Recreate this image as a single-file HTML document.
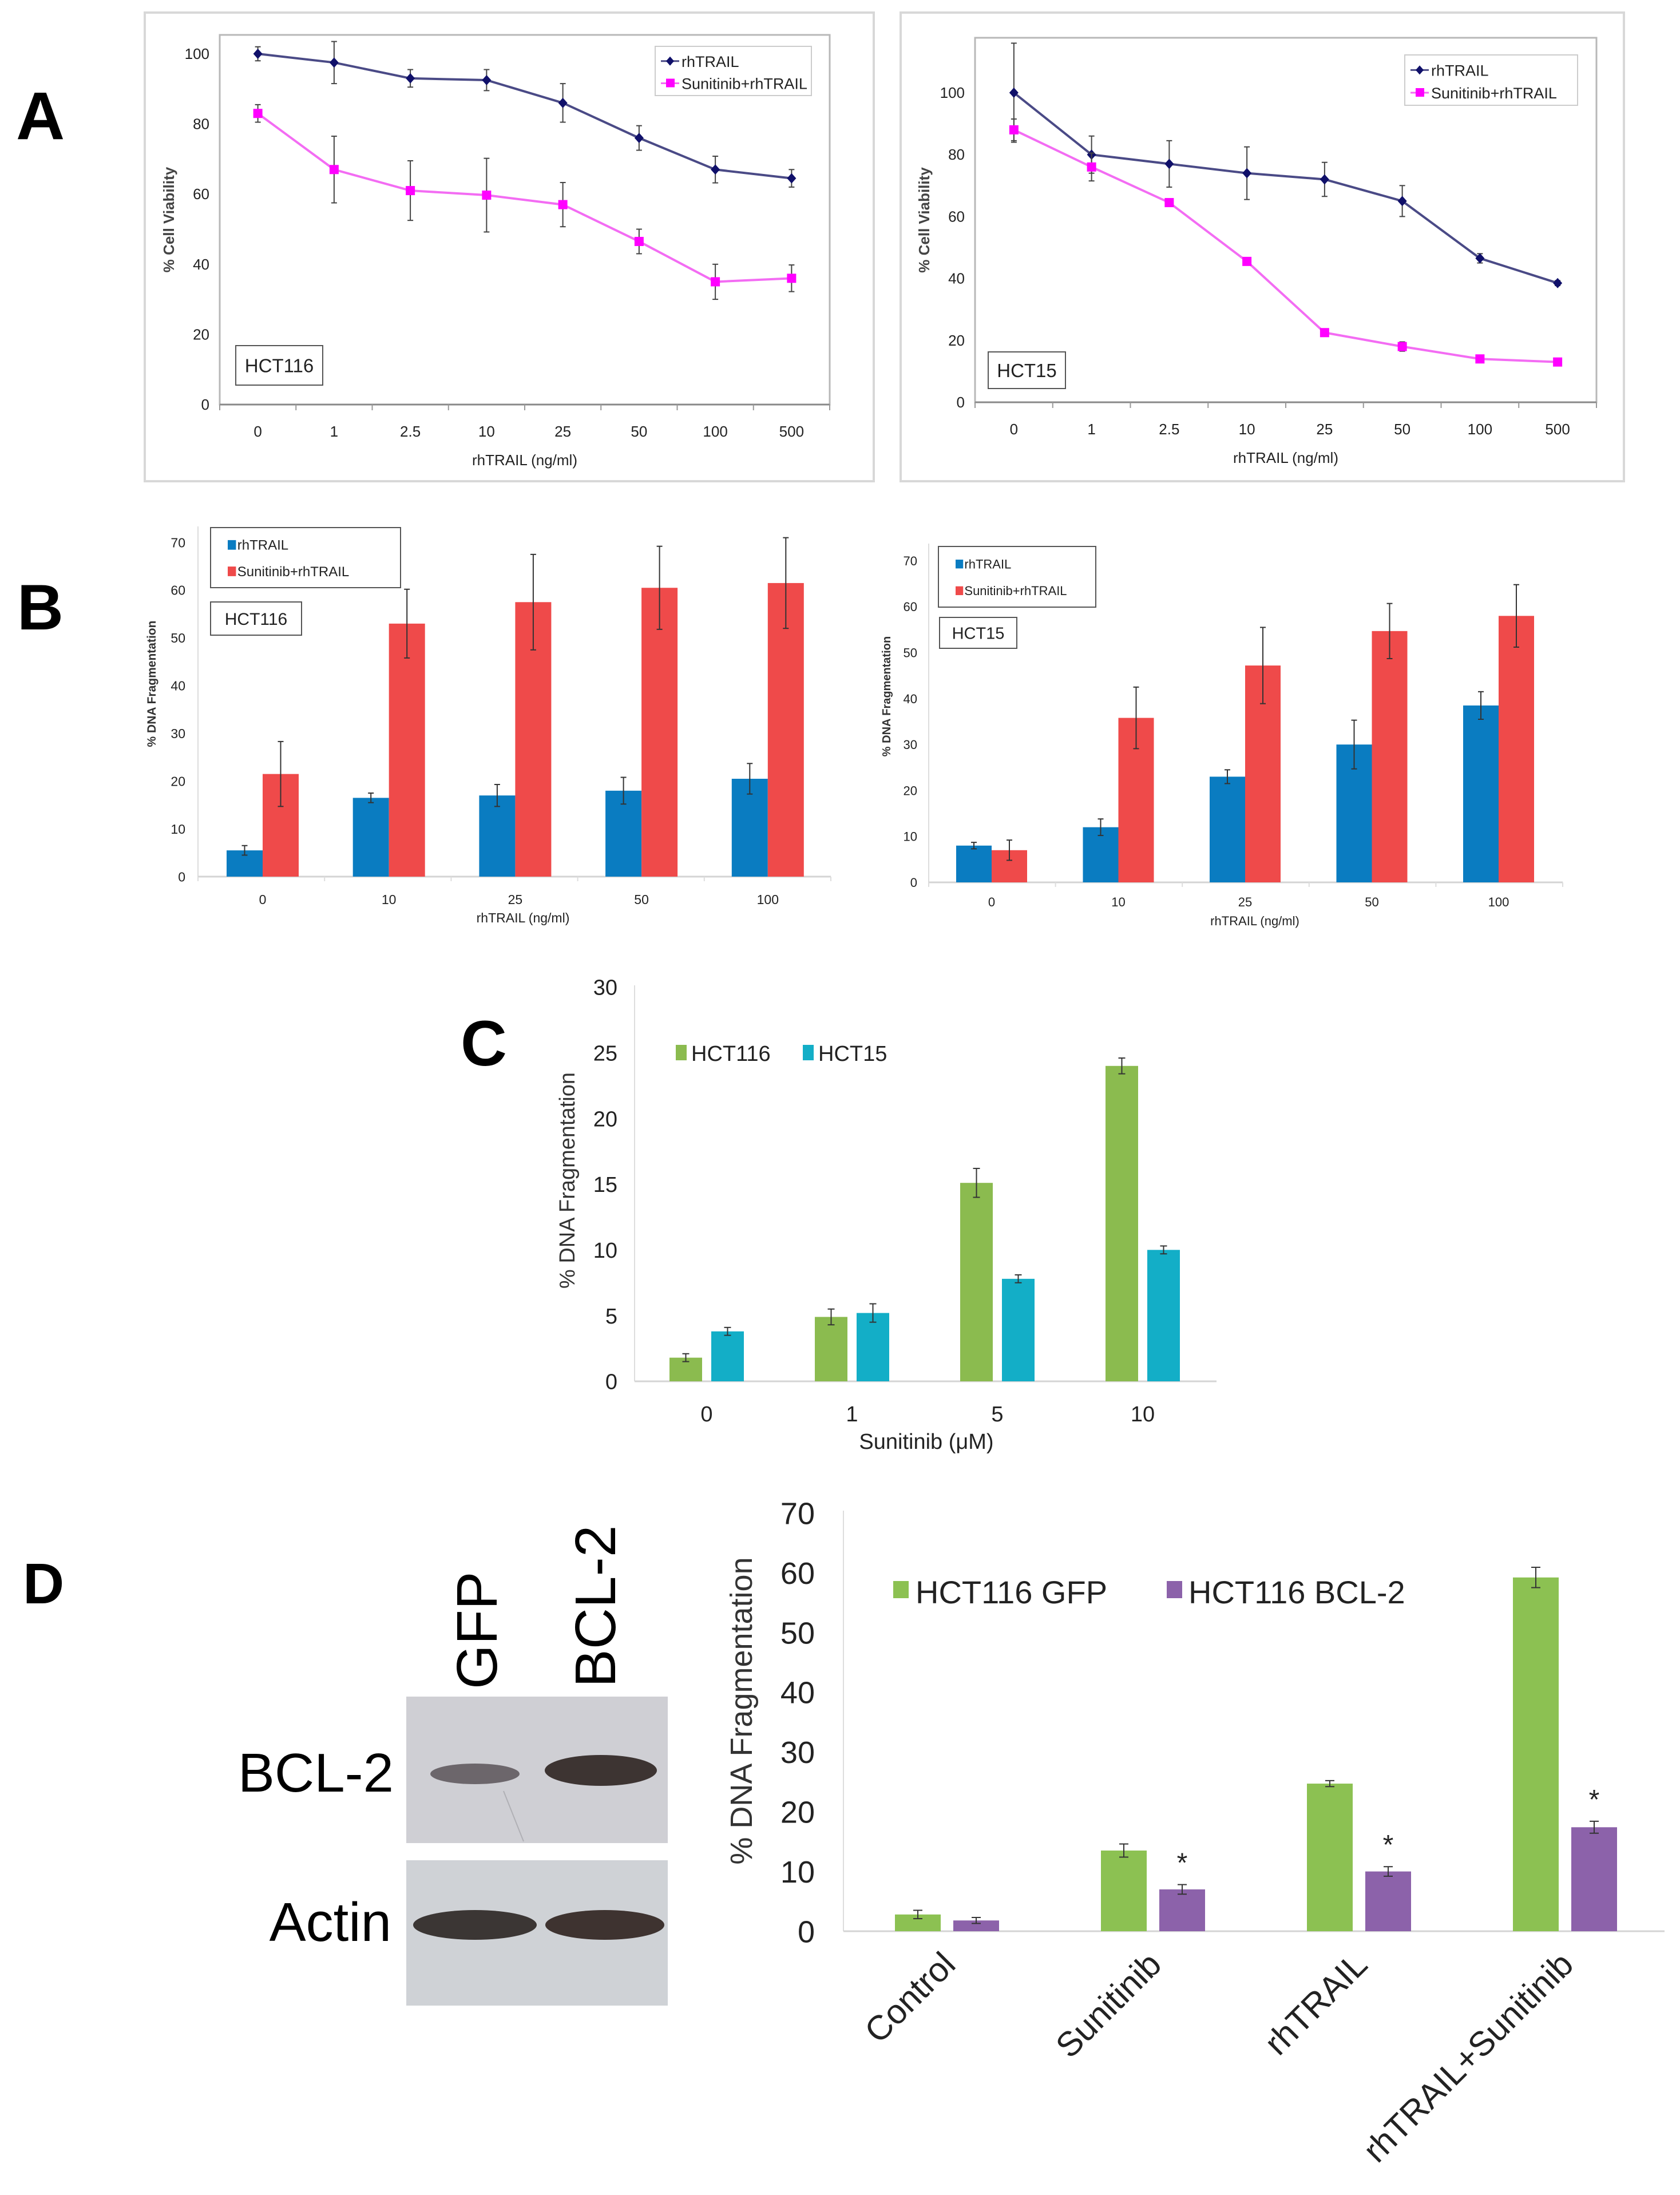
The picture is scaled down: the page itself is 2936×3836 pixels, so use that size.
<!DOCTYPE html>
<html><head><meta charset="utf-8"><title>Figure</title>
<style>
html,body{margin:0;padding:0;background:#fff;}
svg{display:block;}
text{font-family:"Liberation Sans",Arial,sans-serif;}
</style></head>
<body>
<svg id="fig" width="2936" height="3836" viewBox="0 0 2936 3836" xmlns="http://www.w3.org/2000/svg">
<rect x="0" y="0" width="2936" height="3836" fill="#fff"/>
<text x="28" y="243" font-size="118" font-weight="bold">A</text>
<text x="30" y="1100" font-size="112" font-weight="bold">B</text>
<text x="805" y="1862" font-size="112" font-weight="bold">C</text>
<text x="40" y="2802" font-size="100" font-weight="bold">D</text>

<rect x="253" y="22" width="1274" height="819" fill="none" stroke="#d8d8d8" stroke-width="4"/>
<rect x="1574" y="22" width="1264" height="819" fill="none" stroke="#d8d8d8" stroke-width="4"/>

<g>
  <rect x="710" y="2965" width="457" height="256" fill="#cfcfd4"/>
  <rect x="710" y="3251" width="457" height="254" fill="#cfd2d6"/>
  <line x1="880" y1="3130" x2="915" y2="3218" stroke="#b0b0b5" stroke-width="2"/>
  <ellipse cx="830" cy="3100" rx="78" ry="18" fill="#5a5458" opacity="0.85"/>
  <ellipse cx="1050" cy="3094" rx="98" ry="27" fill="#3d3432"/>
  <ellipse cx="830" cy="3364" rx="108" ry="26" fill="#3b3634"/>
  <ellipse cx="1057" cy="3364" rx="104" ry="26" fill="#3e3330"/>
  <text x="688" y="3131" font-size="96" text-anchor="end">BCL-2</text>
  <text x="684" y="3392" font-size="96" text-anchor="end">Actin</text>
  <text transform="translate(868,2952) rotate(-90)" font-size="100">GFP</text>
  <text transform="translate(1075,2949) rotate(-90)" font-size="100">BCL-2</text>
</g>
</svg>
<script>
const aCats = ["0","1","2.5","10","25","50","100","500"];
const aTicks = [0,20,40,60,80,100];
const aLeftTrail = [100,97.5,93,92.5,86,76,67,64.5];
const aLeftTrailErr = [2,6,2.5,3,5.5,3.5,3.8,2.5];
const aLeftSun = [83,67,61,59.7,57,46.5,35,36];
const aLeftSunErr = [2.5,9.5,8.5,10.5,6.3,3.5,5,3.8];
const aRightTrail = [100,80,77,74,72,65,46.5,38.5];
const aRightTrailErr = [16,6,7.5,8.5,5.5,5,1.5,0.8];
const aRightSun = [88,76,64.5,45.5,22.5,18,14,13];
const aRightSunErr = [3.5,4.5,1,1,1,1.5,0.5,0.5];

const bCats = ["0","10","25","50","100"];
const bTicks = [0,10,20,30,40,50,60,70];
const bLeftTrail = [5.5,16.5,17,18,20.5];
const bLeftTrailErr = [1,1,2.3,2.8,3.2];
const bLeftSun = [21.5,53,57.5,60.5,61.5];
const bLeftSunErr = [6.8,7.2,10,8.7,9.5];
const bRightTrail = [8,12,23,30,38.5];
const bRightTrailErr = [0.7,1.8,1.5,5.3,3];
const bRightSun = [7,35.8,47.2,54.7,58];
const bRightSunErr = [2.2,6.7,8.3,6,6.8];

const cCats = ["0","1","5","10"];
const cTicks = [0,5,10,15,20,25,30];
const cHct116 = [1.8,4.9,15.1,24];
const cHct116Err = [0.3,0.6,1.1,0.6];
const cHct15 = [3.8,5.2,7.8,10];
const cHct15Err = [0.3,0.7,0.3,0.3];

const dCats = ["Control","Sunitinib","rhTRAIL","rhTRAIL+Sunitinib"];
const dTicks = [0,10,20,30,40,50,60,70];
const dGfp = [2.8,13.5,24.7,59.2];
const dGfpErr = [0.7,1.1,0.5,1.7];
const dBcl2 = [1.8,7,10,17.4];
const dBcl2Err = [0.5,0.8,0.8,1];
const dStars = [false,true,true,true];

const NS = "http://www.w3.org/2000/svg";
const svg = document.getElementById("fig");
function mk(tag, attrs, parent){
  const e = document.createElementNS(NS, tag);
  for (const k in attrs) e.setAttribute(k, attrs[k]);
  (parent||svg).appendChild(e);
  return e;
}
function txt(s, attrs, parent){ const t = mk("text", attrs, parent); t.textContent = s; return t; }
function lin(min, max, p0, p1){ return v => p0 + (v-min)/(max-min)*(p1-p0); }
function errBar(g, x, y0, y1, cap, color, w){
  const l = mk("line",{x1:x,x2:x,y1:y0,y2:y1,stroke:color,"stroke-width":w},g);
  
  
  mk("line",{x1:x-cap,x2:x+cap,y1:y0,y2:y0,stroke:color,"stroke-width":w},g);
  mk("line",{x1:x-cap,x2:x+cap,y1:y1,y2:y1,stroke:color,"stroke-width":w},g);
}

function lineChart(o){
  const g = mk("g",{});
  
  
  const y = lin(0,100,o.y0,o.y100);
  const n = aCats.length;
  const step = (o.right-o.left)/n;
  const x = i => o.left + step*(i+0.5);
  mk("rect",{x:o.left,y:o.top,width:o.right-o.left,height:o.y0-o.top,fill:"none",stroke:"#b8b8b8","stroke-width":3},g);
  mk("line",{x1:o.left,x2:o.right,y1:o.y0,y2:o.y0,stroke:"#888","stroke-width":3},g);
  for(let k=0;k<=n;k++){ mk("line",{x1:o.left+k*step,x2:o.left+k*step,y1:o.y0,y2:o.y0+10,stroke:"#999","stroke-width":2},g); }
  aTicks.forEach(v=>{
    const t = txt(String(v),{x:o.left-18,y:y(v)+9,"font-size":26,"text-anchor":"end",fill:"#222"},g);
    
    
  });
  aCats.forEach((c,i)=>{
    const t = txt(c,{x:x(i),y:o.y0+56,"font-size":26,"text-anchor":"middle",fill:"#222"},g);
    
    
  });
  const xt = txt("rhTRAIL (ng/ml)",{x:(o.left+o.right)/2,y:o.y0+106,"font-size":26,"text-anchor":"middle",fill:"#222"},g);
  
  
  const yt = txt("% Cell Viability",{transform:`translate(${o.left-80},${(o.top+o.y0)/2}) rotate(-90)`,"font-size":26,"font-weight":"bold","text-anchor":"middle",fill:"#444"},g);
  
  
  const series = [
    {v:o.trail,e:o.trailErr,line:"#4a4a86",mark:"#10106a",shape:"diamond",name:"series-rhtrail"},
    {v:o.sun,e:o.sunErr,line:"#f36cf3",mark:"#ff00ff",shape:"square",name:"series-sunitinib-rhtrail"}
  ];
  series.forEach(s=>{
    const sg = mk("g",{},g);
    
    
    s.v.forEach((v,i)=> errBar(sg, x(i), y(v+s.e[i]), y(v-s.e[i]), 5, "#444", 2));
    const pts = s.v.map((v,i)=>x(i)+","+y(v)).join(" ");
    mk("polyline",{points:pts,fill:"none",stroke:s.line,"stroke-width":4},sg);
    s.v.forEach((v,i)=>{
      let m;
      if(s.shape==="diamond") m = mk("polygon",{points:`${x(i)},${y(v)-9} ${x(i)+8},${y(v)} ${x(i)},${y(v)+9} ${x(i)-8},${y(v)}`,fill:s.mark},sg);
      else m = mk("rect",{x:x(i)-8,y:y(v)-8,width:16,height:16,fill:s.mark},sg);
      
      
    });
  });
  const lg = mk("g",{},g);
  
  
  mk("rect",{x:o.lx,y:o.ly,width:o.lw,height:o.lh,fill:"#fff",stroke:"#ccc","stroke-width":2},lg);
  const r1 = o.ly+o.lh*0.3, r2 = o.ly+o.lh*0.75;
  mk("line",{x1:o.lx+10,x2:o.lx+42,y1:r1,y2:r1,stroke:"#4a4a86","stroke-width":3},lg);
  mk("polygon",{points:`${o.lx+26},${r1-8} ${o.lx+33},${r1} ${o.lx+26},${r1+8} ${o.lx+19},${r1}`,fill:"#10106a"},lg);
  mk("line",{x1:o.lx+10,x2:o.lx+42,y1:r2,y2:r2,stroke:"#f36cf3","stroke-width":3},lg);
  mk("rect",{x:o.lx+19,y:r2-8,width:15,height:15,fill:"#ff00ff"},lg);
  const l1 = txt("rhTRAIL",{x:o.lx+46,y:r1+10,"font-size":27,fill:"#222"},lg);
  
  
  const l2 = txt("Sunitinib+rhTRAIL",{x:o.lx+46,y:r2+10,"font-size":27,fill:"#222"},lg);
  
  
  mk("rect",{x:o.bx,y:o.by,width:o.bw,height:o.bh,fill:"#fff",stroke:"#555","stroke-width":2},g);
  const cb = txt(o.cell,{x:o.bx+o.bw/2,y:o.by+o.bh/2+12,"font-size":33,"text-anchor":"middle",fill:"#222"},g);
  
  
}
lineChart({name:"chart-a-hct116",left:384,right:1450,top:61,y0:707,y100:94,trail:aLeftTrail,trailErr:aLeftTrailErr,sun:aLeftSun,sunErr:aLeftSunErr,
  lx:1145,ly:81,lw:273,lh:86,bx:412,by:604,bw:152,bh:69,cell:"HCT116"});
lineChart({name:"chart-a-hct15",left:1704,right:2790,top:66,y0:703,y100:162,trail:aRightTrail,trailErr:aRightTrailErr,sun:aRightSun,sunErr:aRightSunErr,
  lx:2455,ly:96,lw:302,lh:88,bx:1727,by:615,bw:135,bh:64,cell:"HCT15"});

function barChart(o){
  const g = mk("g",{});
  
  
  const y = lin(0,o.tickVals[o.tickVals.length-1],o.y0,o.yMax);
  const x = i => o.c0 + i*o.step;
  mk("line",{x1:o.left,x2:o.left,y1:o.axisTop,y2:o.y0,stroke:"#ddd","stroke-width":2},g);
  mk("line",{x1:o.left,x2:o.right,y1:o.y0,y2:o.y0,stroke:"#d4d4d4","stroke-width":3},g);
  if(o.ticks){ for(let k=0;k<=o.cats.length;k++){ const tx=o.left+k*(o.right-o.left)/o.cats.length; mk("line",{x1:tx,x2:tx,y1:o.y0,y2:o.y0+8,stroke:"#ddd","stroke-width":2},g);} }
  o.tickVals.forEach(v=>{
    const t = txt(String(v),{x:o.left-o.tickGap,y:y(v)+o.tfs*0.36,"font-size":o.tfs,"text-anchor":"end",fill:"#222"},g);
    
    
  });
  if(!o.rotLabels){
    o.cats.forEach((c,i)=>{
      const t = txt(c,{x:x(i),y:o.xly,"font-size":o.tfs,"text-anchor":"middle",fill:"#222"},g);
      
      
    });
  } else {
    o.cats.forEach((c,i)=>{
      const t = txt(c,{transform:`translate(${x(i)+18},${o.xly}) rotate(-45)`,"font-size":o.xfs,"text-anchor":"end",fill:"#222"},g);
      
      
    });
  }
  if(o.xTitle){
    const xt = txt(o.xTitle,{x:o.xtx,y:o.xty,"font-size":o.xtfs,"text-anchor":"middle",fill:"#222"},g);
    
    
  }
  const yt = txt("% DNA Fragmentation",{transform:`translate(${o.ytx},${o.yty}) rotate(-90)`,"font-size":o.ytfs,"text-anchor":"middle",fill:"#333","font-weight":o.ytBold?"bold":"normal"},g);
  
  
  o.series.forEach(s=>{
    const sg = mk("g",{},g);
    
    
    s.v.forEach((v,i)=>{
      const bx = x(i)+s.off;
      const b = mk("rect",{x:bx,y:y(v),width:o.bw,height:o.y0-y(v),fill:s.color},sg);
      
      
      errBar(sg, bx+o.bw/2, y(v+s.e[i]), y(v-s.e[i]), o.cap, "#333", 2);
    });
  });
  if(o.stars){
    o.stars.forEach((st,i)=>{
      if(!st) return;
      const s = o.series[1];
      const t = txt("*",{x:x(i)+s.off+o.bw/2,y:y(s.v[i]+s.e[i])-22,"font-size":48,"text-anchor":"middle",fill:"#222"},g);
      
      
    });
  }
  o.legend(g);
}
function boxLegend(g, lx, ly, lw, lh, fs, bx, by, bw, bh, bfs, cell){
  const lg = mk("g",{},g);
  
  
  mk("rect",{x:lx,y:ly,width:lw,height:lh,fill:"#fff",stroke:"#555","stroke-width":2},lg);
  const r1 = ly+lh*0.3, r2 = ly+lh*0.74;
  mk("rect",{x:lx+30,y:r1-fs*0.4,width:fs*0.6,height:fs*0.7,fill:"#0a7cc1"},lg);
  mk("rect",{x:lx+30,y:r2-fs*0.4,width:fs*0.6,height:fs*0.7,fill:"#ef4a4a"},lg);
  const a = txt("rhTRAIL",{x:lx+30+fs*0.7,y:r1+fs*0.3,"font-size":fs,fill:"#222"},lg);
  
  
  const b = txt("Sunitinib+rhTRAIL",{x:lx+30+fs*0.7,y:r2+fs*0.3,"font-size":fs,fill:"#222"},lg);
  
  
  mk("rect",{x:bx,y:by,width:bw,height:bh,fill:"#fff",stroke:"#555","stroke-width":2},g);
  const c = txt(cell,{x:bx+bw/2,y:by+bh/2+bfs*0.36,"font-size":bfs,"text-anchor":"middle",fill:"#222"},g);
  
  
}
barChart({name:"chart-b-hct116",cats:bCats,tickVals:bTicks,left:346,right:1452,axisTop:920,y0:1532,yMax:948,c0:459,step:220.7,bw:63,cap:5,ticks:true,
  tfs:23,tickGap:22,xly:1580,xTitle:"rhTRAIL (ng/ml)",xtx:914,xty:1612,xtfs:23,ytx:272,yty:1195,ytfs:21,ytBold:true,
  series:[{v:bLeftTrail,e:bLeftTrailErr,color:"#0a7cc1",off:-63,name:"series-rhtrail"},{v:bLeftSun,e:bLeftSunErr,color:"#ef4a4a",off:0,name:"series-sunitinib-rhtrail"}],
  legend:g=>boxLegend(g,368,922,332,105,24,368,1052,159,58,30,"HCT116")});
barChart({name:"chart-b-hct15",cats:bCats,tickVals:bTicks,left:1623,right:2731,axisTop:950,y0:1542,yMax:980,c0:1733,step:221.5,bw:62,cap:5,ticks:true,
  tfs:22,tickGap:20,xly:1584,xTitle:"rhTRAIL (ng/ml)",xtx:2193,xty:1617,xtfs:22,ytx:1556,yty:1217,ytfs:20,ytBold:true,
  series:[{v:bRightTrail,e:bRightTrailErr,color:"#0a7cc1",off:-62,name:"series-rhtrail"},{v:bRightSun,e:bRightSunErr,color:"#ef4a4a",off:0,name:"series-sunitinib-rhtrail"}],
  legend:g=>boxLegend(g,1640,955,275,106,22,1642,1079,135,54,29,"HCT15")});
barChart({name:"chart-c",cats:cCats,tickVals:cTicks,left:1109,right:2126,axisTop:1722,y0:2414,yMax:1725,c0:1235,step:254,bw:57,cap:6,ticks:false,
  tfs:38,tickGap:30,xly:2484,xTitle:"Sunitinib (\u03BCM)",xtx:1619,xty:2532,xtfs:38,ytx:1004,yty:2063,ytfs:38,ytBold:false,
  series:[{v:cHct116,e:cHct116Err,color:"#8bbb4f",off:-65,name:"series-hct116"},{v:cHct15,e:cHct15Err,color:"#13aec7",off:8,name:"series-hct15"}],
  legend:g=>{
    const lg = mk("g",{},g);
    
    
    mk("rect",{x:1181,y:1826,width:19,height:27,fill:"#8bbb4f"},lg);
    const a = txt("HCT116",{x:1208,y:1854,"font-size":38,fill:"#222"},lg);
    
    
    mk("rect",{x:1403,y:1826,width:19,height:27,fill:"#13aec7"},lg);
    const b = txt("HCT15",{x:1430,y:1854,"font-size":38,fill:"#222"},lg);
    
    
  }});
barChart({name:"chart-d",cats:dCats,tickVals:dTicks,left:1474,right:2909,axisTop:2640,y0:3375,yMax:2644,c0:1655,step:360,bw:80,cap:8,ticks:false,rotLabels:true,
  tfs:54,xfs:60,tickGap:50,xly:3437,xTitle:null,ytx:1314,yty:2990,ytfs:54,ytBold:false,stars:dStars,
  series:[{v:dGfp,e:dGfpErr,color:"#8cc152",off:-91,name:"series-hct116-gfp"},{v:dBcl2,e:dBcl2Err,color:"#8c62aa",off:11,name:"series-hct116-bcl2"}],
  legend:g=>{
    const lg = mk("g",{},g);
    
    
    mk("rect",{x:1561,y:2763,width:27,height:30,fill:"#8cc152"},lg);
    const a = txt("HCT116 GFP",{x:1600,y:2802,"font-size":56,fill:"#222"},lg);
    
    
    mk("rect",{x:2039,y:2763,width:27,height:30,fill:"#8c62aa"},lg);
    const b = txt("HCT116 BCL-2",{x:2077,y:2802,"font-size":56,fill:"#222"},lg);
    
    
  }});
</script>
</body></html>
